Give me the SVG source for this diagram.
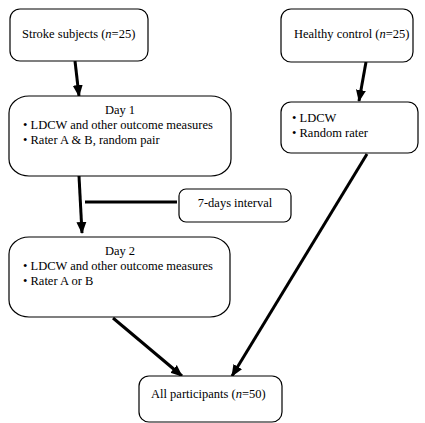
<svg xmlns="http://www.w3.org/2000/svg" width="425" height="423" viewBox="0 0 425 423">
<style>
.box{fill:#fff;stroke:#000;stroke-width:1.2}
.t{font-family:'Liberation Serif','DejaVu Serif',serif;font-size:12.5px;fill:#000}
.c{text-anchor:middle}
.ln{stroke:#000;stroke-width:3;fill:none}
</style>
<defs>
<marker id="ah" markerUnits="userSpaceOnUse" markerWidth="12" markerHeight="12" viewBox="0 0 12 12" refX="11" refY="6" orient="auto">
<path d="M0,1 L12,6 L0,11 Z" fill="#000"/>
</marker>
</defs>
<rect width="425" height="423" fill="#fff"/>
<g id="connectors">
<line class="ln" x1="75" y1="61" x2="79" y2="96" marker-end="url(#ah)"/>
<line class="ln" x1="366" y1="62" x2="359" y2="101" marker-end="url(#ah)"/>
<line class="ln" x1="79" y1="176" x2="82" y2="233" marker-end="url(#ah)"/>
<line class="ln" x1="85" y1="202" x2="177" y2="202"/>
<line class="ln" x1="113" y1="318" x2="182" y2="376" marker-end="url(#ah)"/>
<line class="ln" x1="367" y1="154" x2="232" y2="376" marker-end="url(#ah)"/>
</g>
<g id="stroke">
<rect class="box" x="10" y="9" width="138" height="52" rx="10"/>
<text class="t" x="22" y="38">Stroke subjects (<tspan font-style="italic">n</tspan>=25)</text>
</g>
<g id="healthy">
<rect class="box" x="281" y="9" width="132" height="53" rx="10"/>
<text class="t" x="294" y="38">Healthy control (<tspan font-style="italic">n</tspan>=25)</text>
</g>
<g id="day1">
<rect class="box" x="9" y="96" width="222" height="80" rx="20" ry="17"/>
<text class="t c" x="120" y="114">Day 1</text>
<text class="t" x="23" y="129">• LDCW and other outcome measures</text>
<text class="t" x="23" y="144">• Rater A &amp; B, random pair</text>
</g>
<g id="ldcw">
<rect class="box" x="281" y="102" width="137" height="51" rx="10"/>
<text class="t" x="292" y="122">• LDCW</text>
<text class="t" x="292" y="137">• Random rater</text>
</g>
<g id="interval">
<rect class="box" x="179" y="189" width="112" height="33" rx="7"/>
<text class="t c" x="235" y="207">7-days interval</text>
</g>
<g id="day2">
<rect class="box" x="9" y="237" width="221" height="80" rx="20" ry="17"/>
<text class="t c" x="120" y="255">Day 2</text>
<text class="t" x="23" y="270">• LDCW and other outcome measures</text>
<text class="t" x="23" y="285">• Rater A or B</text>
</g>
<g id="all">
<rect class="box" x="139" y="376" width="143" height="46" rx="10"/>
<text class="t" x="151" y="398">All participants (<tspan font-style="italic">n</tspan>=50)</text>
</g>
</svg>
